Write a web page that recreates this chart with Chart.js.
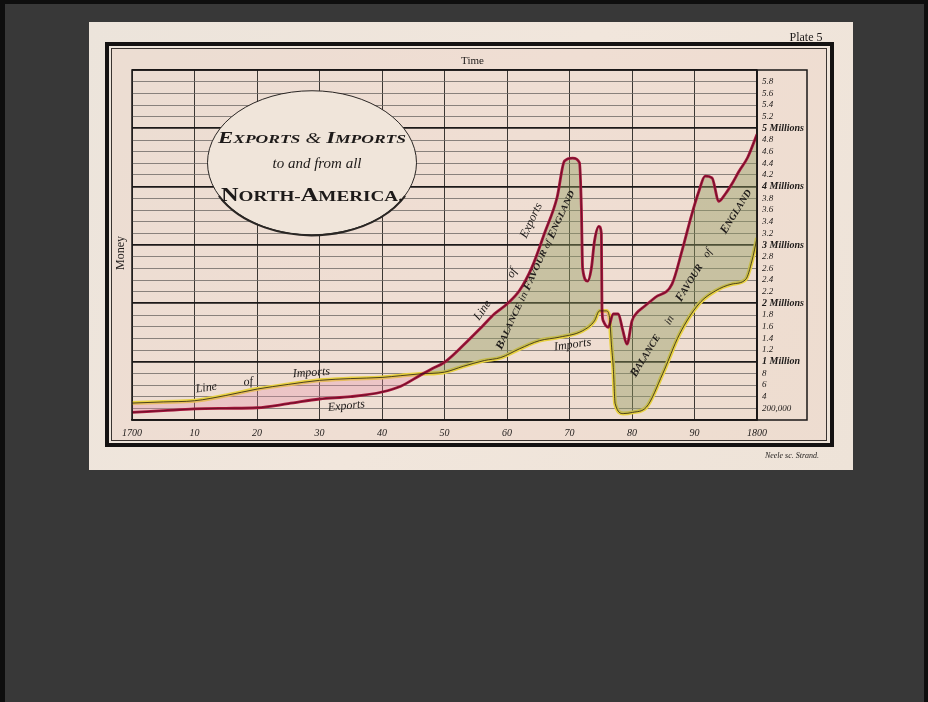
<!DOCTYPE html>
<html>
<head>
<meta charset="utf-8">
<title>Exports & Imports to and from all North-America</title>
<script src="https://cdn.jsdelivr.net/npm/chart.js@4.4.1/dist/chart.umd.min.js"></script>
<style>
  html, body { margin: 0; padding: 0; background: #383838; }
  canvas { display: block; }
</style>
</head>
<body>
<canvas id="myChart" width="928" height="702"></canvas>
<script>
// values in millions of pounds
const exportYears = [1700, 1705, 1710, 1715, 1720, 1725, 1730, 1735, 1740, 1743, 1746, 1748, 1750, 1753, 1756, 1758, 1760, 1762, 1764, 1766, 1768, 1769.2, 1770.5, 1771.6, 1771.9, 1772.1, 1772.9, 1773.5, 1774, 1774.7, 1775.1, 1775.2, 1775.4, 1776.2, 1777, 1777.8, 1778.5, 1779.2, 1780, 1780.8, 1782, 1783.7, 1786.4, 1788, 1789.5, 1790.7, 1791.7, 1792.8, 1793.9, 1794.9, 1796, 1797.1, 1798.5, 1800];
const exportValues = [0.13, 0.16, 0.19, 0.2, 0.21, 0.28, 0.36, 0.4, 0.48, 0.58, 0.76, 0.88, 0.99, 1.28, 1.6, 1.82, 1.99, 2.22, 2.62, 3.2, 3.81, 4.44, 4.49, 4.41, 3.64, 2.6, 2.38, 2.6, 3.07, 3.32, 3.2, 1.9, 1.7, 1.59, 1.82, 1.82, 1.55, 1.3, 1.7, 1.84, 1.95, 2.1, 2.33, 2.9, 3.5, 3.92, 4.18, 4.15, 3.75, 3.87, 4.05, 4.26, 4.5, 4.9];

const importYears = [1700, 1705, 1710, 1715, 1720, 1725, 1730, 1735, 1740, 1743, 1746, 1750, 1753, 1756.4, 1759, 1762, 1765.2, 1768.4, 1772.1, 1774, 1774.8, 1775.9, 1776.4, 1776.7, 1777, 1777.3, 1778.6, 1780.1, 1782.3, 1784.9, 1787.6, 1790.7, 1793.3, 1796, 1798.2, 1799.2, 1800];
const importValues = [0.29, 0.31, 0.33, 0.42, 0.53, 0.61, 0.68, 0.71, 0.73, 0.76, 0.79, 0.82, 0.92, 1.02, 1.07, 1.22, 1.36, 1.42, 1.53, 1.7, 1.87, 1.87, 1.76, 1.3, 0.9, 0.28, 0.11, 0.13, 0.22, 0.79, 1.47, 1.99, 2.21, 2.33, 2.41, 2.73, 3.12];

const xTickLabels = ['1700', '10', '20', '30', '40', '50', '60', '70', '80', '90', '1800'];
const yTickLabels = ['', '200,000', '4', '6', '8', '1 Million', '1.2', '1.4', '1.6', '1.8', '2 Millions', '2.2', '2.4', '2.6', '2.8', '3 Millions', '3.2', '3.4', '3.6', '3.8', '4 Millions', '4.2', '4.4', '4.6', '4.8', '5 Millions', '5.2', '5.4', '5.6', '5.8', ''];

const exportPoints = exportYears.map((x, i) => ({ x, y: exportValues[i] }));
const importPoints = importYears.map((x, i) => ({ x, y: importValues[i] }));

const SERIF = '"Liberation Serif", "DejaVu Serif", serif';
const INK = '#1d1a19';

// text made of parts with different fonts, squeezed to a width
function drawParts(ctx, parts, width) {
  let total = 0;
  parts.forEach(p => { ctx.font = p[1]; total += ctx.measureText(p[0]).width; });
  const k = width ? width / total : 1;
  ctx.save();
  ctx.scale(k, 1);
  let x = -total / 2;
  parts.forEach(p => {
    ctx.font = p[1];
    ctx.fillText(p[0], x, 0);
    x += ctx.measureText(p[0]).width;
  });
  ctx.restore();
}

function note(chart, year, value, angle, parts, width) {
  const { ctx, scales } = chart;
  ctx.save();
  ctx.translate(scales.x.getPixelForValue(year), scales.y.getPixelForValue(value));
  ctx.rotate(angle * Math.PI / 180);
  ctx.fillStyle = INK;
  ctx.textAlign = 'left';
  ctx.textBaseline = 'middle';
  drawParts(ctx, parts, width);
  ctx.restore();
}

const it = s => 'italic ' + s + 'px ' + SERIF;
const bi = s => 'bold italic ' + s + 'px ' + SERIF;
const bd = s => 'bold ' + s + 'px ' + SERIF;

const isMillion = v => Math.round(v * 5) % 5 === 0;

const plate = {
  id: 'plate',
  beforeDraw(chart) {
    const { ctx, chartArea } = chart;
    ctx.save();
    ctx.fillStyle = '#383838';
    ctx.fillRect(0, 0, 928, 702);
    ctx.fillStyle = '#0e0e0e';
    ctx.fillRect(0, 0, 928, 4);
    ctx.fillRect(0, 0, 5, 702);
    ctx.fillRect(924, 0, 4, 702);

    // paper
    const g = ctx.createLinearGradient(89, 22, 853, 470);
    g.addColorStop(0, '#ece4db');
    g.addColorStop(0.5, '#f1e6dc');
    g.addColorStop(1, '#eee3d8');
    ctx.fillStyle = g;
    ctx.fillRect(89, 22, 764, 448);
    ctx.fillStyle = 'rgba(236, 200, 185, 0.25)';
    ctx.fillRect(111, 48, 716, 393);

    // frames
    ctx.strokeStyle = '#141212';
    ctx.lineWidth = 4;
    ctx.strokeRect(107, 44, 725, 401);
    ctx.lineWidth = 1;
    ctx.strokeStyle = '#3a3431';
    ctx.strokeRect(111.5, 48.5, 715, 392);

    ctx.fillStyle = INK;
    ctx.textAlign = 'center';
    ctx.textBaseline = 'middle';
    ctx.font = '11px ' + SERIF;
    ctx.fillText('Time', (chartArea.left + chartArea.right) / 2 + 28, 61);
    ctx.font = '12px ' + SERIF;
    ctx.fillText('Plate 5', 806, 38);
    ctx.font = it(8);
    ctx.fillText('Neele sc. Strand.', 792, 456);
    ctx.save();
    ctx.translate(121, 253);
    ctx.rotate(-Math.PI / 2);
    ctx.font = '12px ' + SERIF;
    ctx.fillText('Money', 0, 0);
    ctx.restore();
    ctx.restore();
  },
  afterDraw(chart) {
    const { ctx, chartArea, scales } = chart;
    const { left, right, top, bottom } = chartArea;
    ctx.save();
    // label column of the plot frame
    ctx.strokeStyle = '#1a1717';
    ctx.lineWidth = 1.5;
    ctx.strokeRect(left, top, 807 - left, bottom - top);
    ctx.beginPath();
    ctx.moveTo(right, top);
    ctx.lineTo(right, bottom);
    ctx.stroke();

    // title cartouche
    const cx = scales.x.getPixelForValue(1728.8);
    const cy = scales.y.getPixelForValue(4.41);
    ctx.beginPath();
    ctx.ellipse(cx, cy, 104.5, 72, 0, 0, Math.PI * 2);
    ctx.fillStyle = '#f0e5da';
    ctx.fill();
    ctx.lineWidth = 1;
    ctx.strokeStyle = '#2a2624';
    ctx.stroke();
    ctx.beginPath();
    ctx.ellipse(cx, cy + 0.5, 104.5, 72, 0, 0.15 * Math.PI, 0.85 * Math.PI);
    ctx.lineWidth = 2;
    ctx.stroke();

    ctx.fillStyle = INK;
    ctx.textAlign = 'left';
    ctx.textBaseline = 'alphabetic';
    ctx.save();
    ctx.translate(cx, cy - 20);
    drawParts(ctx, [['E', bi(17)], ['XPORTS', bi(13)], [' & ', it(15)], ['I', bi(17)], ['MPORTS', bi(13)]], 188);
    ctx.restore();
    ctx.save();
    ctx.translate(cx + 5, cy + 5);
    drawParts(ctx, [['to and from all', it(15)]]);
    ctx.restore();
    ctx.save();
    ctx.translate(cx, cy + 38);
    drawParts(ctx, [['N', bd(19)], ['ORTH-', bd(15)], ['A', bd(19)], ['MERICA.', bd(15)]], 182);
    ctx.restore();
    ctx.restore();

    // notes on the lines
    note(chart, 1711.9, 0.55, -8, [['Line', it(12)]]);
    note(chart, 1718.6, 0.65, -8, [['of', it(12)]]);
    note(chart, 1728.7, 0.81, -4, [['Imports', it(12)]]);
    note(chart, 1734.3, 0.24, -6, [['Exports', it(12)]]);
    note(chart, 1756.1, 1.88, -55, [['Line', it(12)]]);
    note(chart, 1760.8, 2.52, -60, [['of', it(12)]]);
    note(chart, 1763.9, 3.42, -65, [['Exports', it(12)]]);
    note(chart, 1770.5, 1.29, -8, [['Imports', it(12)]]);
    note(chart, 1764.6, 2.57, -65, [['B', bi(11)], ['ALANCE', bi(9)], [' in ', it(10)], ['F', bi(11)], ['AVOUR', bi(9)], [' of ', it(9)], ['E', bi(11)], ['NGLAND', bi(9)]], 174);
    const a2 = -58;
    note(chart, 1782.2, 1.1, a2, [['B', bi(12)], ['ALANCE', bi(10)]]);
    note(chart, 1786, 1.71, a2, [['in', it(11)]]);
    note(chart, 1789.2, 2.35, a2, [['F', bi(12)], ['AVOUR', bi(10)]]);
    note(chart, 1792.1, 2.86, a2, [['of', it(11)]]);
    note(chart, 1796.7, 3.57, a2, [['E', bi(12)], ['NGLAND', bi(10)]]);
  }
};

const config = {
  type: 'line',
  data: {
    datasets: [
      {
        label: 'Exports',
        data: exportPoints,
        borderColor: '#a8173d',
        borderWidth: 2.8,
        pointRadius: 0,
        cubicInterpolationMode: 'monotone',
        fill: { target: 1, above: 'rgba(145, 156, 95, 0.42)', below: 'rgba(230, 140, 168, 0.3)' },
        order: 1
      },
      {
        label: 'Imports',
        data: importPoints,
        borderColor: '#e8d142',
        borderWidth: 4,
        pointRadius: 0,
        cubicInterpolationMode: 'monotone',
        fill: false,
        order: 2
      },
      {
        label: 'Exports line',
        data: exportPoints,
        borderColor: 'rgba(60, 10, 25, 0.7)',
        borderWidth: 0.8,
        pointRadius: 0,
        cubicInterpolationMode: 'monotone',
        fill: false,
        order: 0
      },
      {
        label: 'Imports line',
        data: importPoints,
        borderColor: 'rgba(30, 25, 10, 0.85)',
        borderWidth: 0.9,
        pointRadius: 0,
        cubicInterpolationMode: 'monotone',
        fill: false,
        order: 0
      }
    ]
  },
  options: {
    responsive: false,
    animation: false,
    layout: { padding: { left: 132, right: 121, top: 70, bottom: 260 } },
    plugins: {
      legend: { display: false },
      tooltip: { enabled: false }
    },
    scales: {
      x: {
        type: 'linear',
        min: 1700,
        max: 1800,
        afterFit(scale) { scale.height = 22; },
        border: { display: true, color: '#1a1717', width: 1.5 },
        grid: { color: '#3b3733', lineWidth: 1, drawTicks: false },
        ticks: {
          stepSize: 10,
          autoSkip: false,
          maxRotation: 0,
          padding: 7,
          color: INK,
          font: { family: SERIF, size: 10, style: 'italic' },
          callback: v => xTickLabels[Math.round((v - 1700) / 10)]
        }
      },
      y: {
        position: 'right',
        min: 0,
        max: 6,
        afterFit(scale) { scale.width = 50; },
        border: { display: true, color: '#1a1717', width: 1.5 },
        grid: {
          drawTicks: false,
          color: c => (c.tick && isMillion(c.tick.value)) ? '#1c1919' : '#6f6a66',
          lineWidth: c => (c.tick && isMillion(c.tick.value)) ? 1.8 : 0.8
        },
        ticks: {
          stepSize: 0.2,
          autoSkip: false,
          padding: 5,
          color: INK,
          font: c => {
            if (c.tick && isMillion(c.tick.value) && c.tick.value > 0.5) {
              return { family: SERIF, size: 10, style: 'italic', weight: 'bold' };
            }
            return { family: SERIF, size: 9, style: 'italic' };
          },
          callback: v => yTickLabels[Math.round(v * 5)]
        }
      }
    }
  },
  plugins: [plate]
};

const myChart = new Chart(document.getElementById('myChart'), config);
</script>
</body>
</html>
